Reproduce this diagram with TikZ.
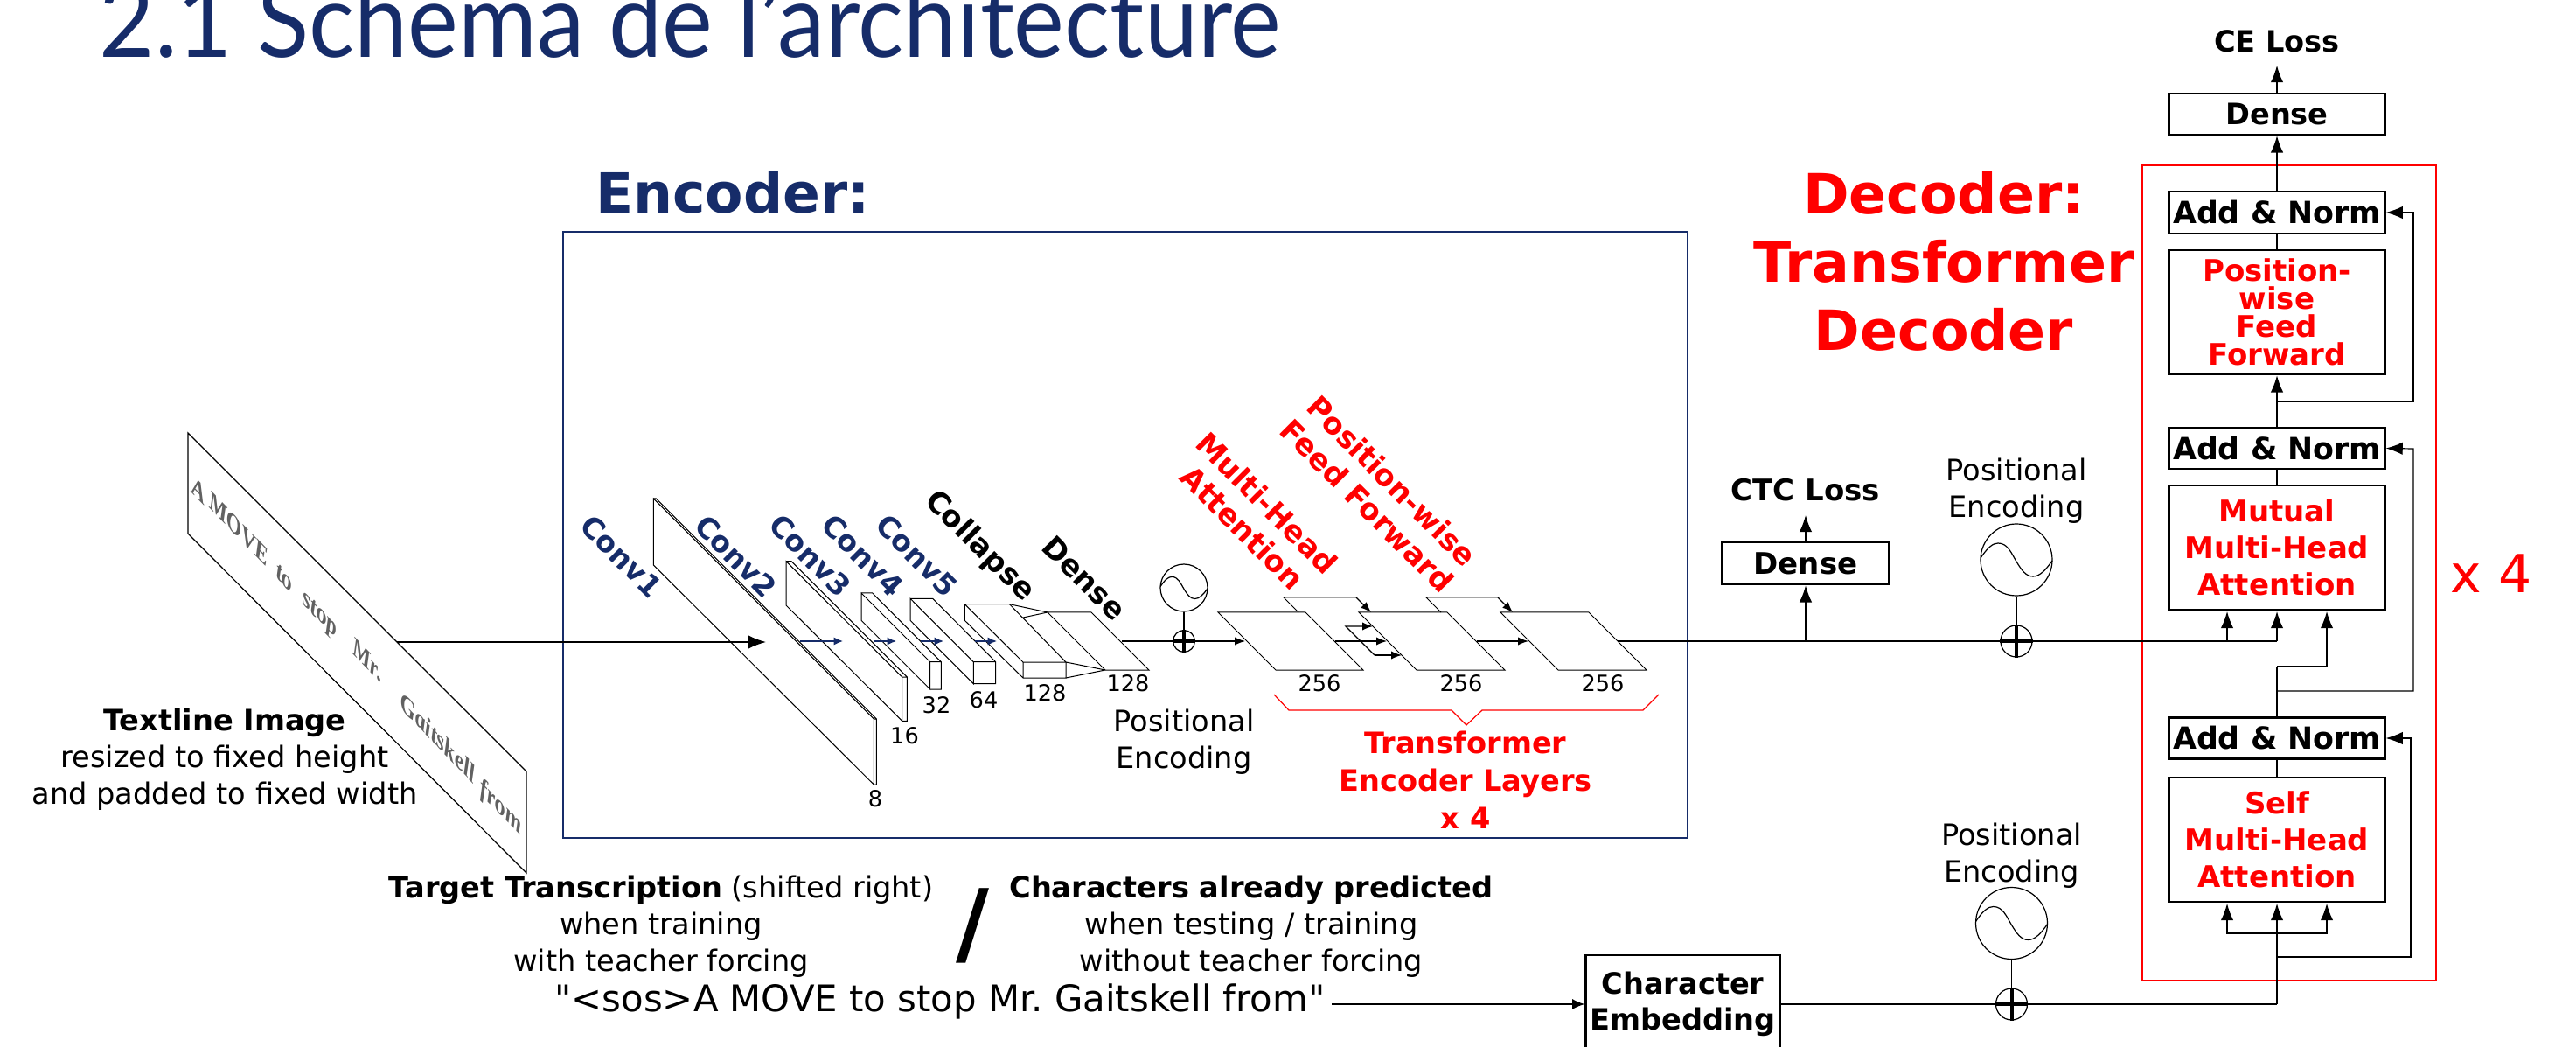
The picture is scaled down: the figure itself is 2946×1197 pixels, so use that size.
\documentclass[tikz,border=0pt]{standalone}
\usepackage{fontspec}
\usepackage{graphicx}
\setmainfont{DejaVu Sans}
\newfontfamily\seqfont{DejaVu Sans}
\newfontfamily\handfont{Liberation Serif}
\newfontfamily\titlefont{Lato}
\usetikzlibrary{arrows.meta,calc}
\definecolor{navy}{RGB}{22,44,105}
\definecolor{redd}{RGB}{255,0,0}
\newcommand\sinewave[3]{\draw[thinl,shift={(#1,#2)},scale=#3] (-41,-2) .. controls (-33,-14) and (-27,-19) .. (-21,-19) .. controls (-10,-19) and (-6,-8) .. (0,2) .. controls (6,12) and (11,19) .. (19,19) .. controls (27,19) and (34,11) .. (41,1);}
\tikzset{
  x=0.25pt,y=-0.25pt,
  thinl/.style={draw=black,line width=0.3pt},
  plate/.style={draw=black,line width=0.25pt},
  conn/.style={thinl,-{Latex[length=4.8pt,width=3.6pt]}},
  small/.style={thinl,-{Latex[length=3pt,width=2.3pt]}},
  bluearr/.style={draw=navy,line width=0.35pt,-{Latex[length=2.6pt,width=2.3pt]}},
  boxn/.style={draw=black,line width=0.68pt,fill=white,inner sep=0pt,minimum width=61.6pt,align=center,font=\fontsize{8.4}{8}\selectfont\bfseries},
  anbox/.style={boxn,font=\fontsize{8.7}{8}\selectfont\bfseries},
  redbox/.style={boxn,text=redd,font=\fontsize{8.5}{10.5}\selectfont\bfseries},
  txt/.style={inner sep=0pt,align=center,font=\fontsize{8.4}{10.5}\selectfont},
  btxt/.style={txt,font=\fontsize{8.4}{10.5}\selectfont\bfseries},
  dim/.style={inner sep=0pt,font=\fontsize{6.4}{7}\selectfont},
  conv/.style={inner sep=0pt,text=navy,rotate=-45,font=\fontsize{8.3}{9}\selectfont\bfseries},
  rotblack/.style={inner sep=0pt,rotate=-45,font=\fontsize{8.5}{9}\selectfont\bfseries},
  rotred/.style={inner sep=0pt,rotate=-45,align=center,text=redd,font=\fontsize{8.55}{10}\selectfont\bfseries},
  pluscirc/.style={draw=black,line width=0.3pt,circle,minimum size=9pt,inner sep=0pt},
  wavecirc/.style={draw=black,line width=0.3pt,circle,inner sep=0pt},
  hand/.style={inner sep=0pt,text=black!62,transform shape,font=\fontsize{7.2}{8}\selectfont\handfont\bfseries\itshape},
}
\begin{document}
\begin{tikzpicture}
\useasboundingbox (0,0) rectangle (2946,1197);
\clip (0,0) rectangle (2946,1197);

% title
\node[anchor=base west,inner sep=0pt,text=navy,font=\fontsize{29.5}{30}\selectfont\titlefont] (title) at (113,66) {\scalebox{0.926}[1]{2.1 Schéma de l’architecture}};

% input image
\draw[thinl] (215,495) -- (215,610) -- (602,998) -- (602,882) -- cycle;
\foreach \nm/\px/\py/\w in {ha/227/561/A,hb/273/605/MOVE,hc/325/661/to,hd/366/705/stop,he/420/754/Mr.,hf/501/843/Gaitskell,hg/573/924/from}{
  \begin{scope}[shift={(\px,\py)},cm={0.8,-0.83,0,1.15,(0,0)}]
    \node[hand] (\nm) at (0,0) {\w};
  \end{scope}
}
\node[txt] (imglabel) at (257,868) {\textbf{Textline Image}\\resized to fixed height\\and padded to fixed width};

% encoder frame
\node[draw=navy,line width=0.55pt,minimum width=321.5pt,minimum height=173.25pt,inner sep=0pt] (encbox) at (1287,611.5) {};
\node[inner sep=0pt,text=navy,font=\fontsize{15.8}{18}\selectfont\bfseries] (enctitle) at (838,220) {Encoder:};

% conv blocks
\draw[plate] (747.3,646) -- (747.3,570) -- (999.3,822) -- (999.3,897) -- cycle;
\draw[plate] (747.3,570) -- (750.3,570) -- (1002.3,822) -- (1002.3,897) -- (999.3,897) (999.3,822) -- (1002.3,822);
\draw[plate] (899,692) -- (899,641.7) -- (1031.7,774) -- (1031.7,824.3) -- cycle;
\draw[plate] (899,641.7) -- (905,641.7) -- (1037.3,774) -- (1037.3,824.3) -- (1031.7,824.3) (1031.7,774) -- (1037.3,774);
\draw[plate] (985,709.3) -- (985,678) -- (1063.7,756.7) -- (1063.7,788) -- cycle;
\draw[plate] (985,678) -- (997.7,678) -- (1076.3,756.7) -- (1076.3,788) -- (1063.7,788) (1063.7,756.7) -- (1076.3,756.7);
\draw[plate] (1041,709.3) -- (1041,684.3) -- (1113.3,756.7) -- (1113.3,781.7) -- cycle;
\draw[plate] (1041,684.3) -- (1066.7,684.3) -- (1138.7,756.7) -- (1138.7,781.7) -- (1113.3,781.7) (1113.3,756.7) -- (1138.7,756.7);
% collapse
\draw[plate] (1103.3,690.7) -- (1154.5,690.7) -- (1219,757) -- (1170,757) -- cycle;
\draw[plate] (1103.3,690.7) -- (1103.3,709.3) -- (1170,775) -- (1219,775) -- (1219,757) (1170,757) -- (1170,775);
\draw[plate] (1154.5,690.7) -- (1198,700) (1170,706) -- (1198,700) (1219,757) -- (1264,766) (1219,775) -- (1264,766);
% dense plate
\draw[plate] (1198,700) -- (1248,700) -- (1314,766) -- (1264,766) -- cycle;

% transformer plates
\draw[plate] (1393,700) -- (1493,700) -- (1559,766) -- (1459,766) -- cycle;
\draw[plate] (1554,700) -- (1655,700) -- (1721,766) -- (1620,766) -- cycle;
\draw[plate] (1716,700) -- (1817,700) -- (1883,766) -- (1782,766) -- cycle;
\draw[plate] (1485,700) -- (1468,683) -- (1551,683);
\draw[plate] (1648,700) -- (1631,683) -- (1713,683);

\coordinate (a1) at (1551,683); \coordinate (a1t) at (1568,700);
\coordinate (a2) at (1713,683); \coordinate (a2t) at (1730,700);
\draw[small] (a1) -- (a1t);
\draw[small] (a2) -- (a2t);
\coordinate (s0) at (1539,716); \coordinate (s1) at (1570,716); \coordinate (s2) at (1572,749); \coordinate (s3) at (1603,749);
\draw[small] (s2) -- (s0) -- (s1);
\draw[small] (s2) -- (s3);
\coordinate (m1) at (1527,733); \coordinate (m1t) at (1586,733);
\coordinate (m2) at (1689,733); \coordinate (m2t) at (1748,733);
\draw[small] (m1) -- (m1t);
\draw[small] (m2) -- (m2t);

% labels
\node[conv] (lc1) at (710.7,636) {Conv1};
\node[conv] (lc2) at (841.7,636) {Conv2};
\node[conv] (lc3) at (927,635) {Conv3};
\node[conv] (lc4) at (986.7,635) {Conv4};
\node[conv] (lc5) at (1049,635) {Conv5};
\node[rotblack] (lcol) at (1120,625) {Collapse};
\node[rotblack] (lden) at (1240,661) {Dense};
\node[rotred] (lmha) at (1435,589) {Multi-Head\\Attention};
\node[rotred] (lpff) at (1578,564) {Position-wise\\Feed Forward};

\node[dim] (d8) at (1001,913) {8};
\node[dim] (d16) at (1034.5,841) {16};
\node[dim] (d32) at (1071,806) {32};
\node[dim] (d64) at (1125,800) {64};
\node[dim] (d128a) at (1195,792) {128};
\node[dim] (d128b) at (1290,781) {128};
\node[dim] (d256a) at (1509,781) {256};
\node[dim] (d256b) at (1671,781) {256};
\node[dim] (d256c) at (1833,781) {256};

% main arrows
\coordinate (imgout) at (454,734); \coordinate (imgtip) at (876,734);
\draw[thinl,-{Latex[length=5pt,width=3.8pt]}] (imgout) -- (imgtip);
\coordinate (b1) at (915,733); \coordinate (b1t) at (964,733);
\coordinate (b2) at (1000,733); \coordinate (b2t) at (1025,733);
\coordinate (b3) at (1053,733); \coordinate (b3t) at (1079,733);
\coordinate (b4) at (1115,733); \coordinate (b4t) at (1140,733);
\draw[bluearr] (b1) -- (b1t);
\draw[bluearr] (b2) -- (b2t);
\draw[bluearr] (b3) -- (b3t);
\draw[bluearr] (b4) -- (b4t);

% encoder positional encoding
\node[wavecirc,minimum size=13.5pt] (pw1) at (1354,672) {};
\sinewave{1354}{672}{0.66}
\node[pluscirc,minimum size=6.2pt] (pp1) at (1354,733) {};
\draw[black,line width=0.9pt] (pp1.north) -- (pp1.south) (pp1.west) -- (pp1.east);
\draw[thinl] (pw1.south) -- (pp1.north);
\coordinate (d1) at (1283,733); \coordinate (d1t) at (1424,733);
\draw[small] (d1) -- (d1t);
\node[txt] (pl1) at (1354,848) {Positional\\Encoding};

% brace
\draw[draw=redd,line width=0.3pt] (1457,794) -- (1474,812) -- (1660,812) -- (1677,829) -- (1695,812) -- (1879,812) -- (1897,794);
\node[btxt,text=redd,font=\fontsize{8.4}{10.75}\selectfont\bfseries] (trlabel) at (1676,892) {Transformer\\Encoder Layers\\x 4};

% CTC
\node[boxn,minimum width=47.9pt,minimum height=12pt,font=\fontsize{8.5}{8}\selectfont\bfseries] (ctcdense) at (2065,644) {Dense};
\node[btxt,font=\fontsize{8.5}{10}\selectfont\bfseries] (ctcloss) at (2065,560) {CTC Loss};
\coordinate (ctcbr) at (2065,733); \coordinate (ctctip) at (2065,589);
\draw[conn] (ctcbr) -- (ctcdense.south);
\draw[conn] (ctcdense.north) -- (ctctip);

% decoder main
\node[draw=redd,line width=0.55pt,minimum width=84.1pt,minimum height=233pt,inner sep=0pt] (decbox) at (2617.75,655) {};
\node[inner sep=0pt,align=center,text=redd,font=\fontsize{15.85}{19.5}\selectfont\bfseries] (dectitle) at (2223,299) {Decoder:\\Transformer\\Decoder};
\node[inner sep=0pt,text=redd,font=\fontsize{15}{18}\selectfont] (x4) at (2849,656) {x 4};

\node[btxt] (celoss) at (2604,47) {CE Loss};
\node[boxn,minimum height=11.75pt] (dense) at (2604,130.5) {Dense};
\node[anbox,minimum height=12pt] (an1) at (2604,243) {Add \& Norm};
\node[redbox,minimum height=35.5pt,font=\fontsize{8.5}{8}\selectfont\bfseries] (pwff) at (2604,357) {Position-\\wise\\Feed\\Forward};
\node[anbox,minimum height=11.75pt] (an2) at (2604,512.5) {Add \& Norm};
\node[redbox,minimum height=35.5pt] (mutual) at (2604,626) {Mutual\\Multi-Head\\Attention};
\node[anbox,minimum height=11.9pt] (an3) at (2604,844) {Add \& Norm};
\node[redbox,minimum height=35.5pt] (self) at (2604,960) {Self\\Multi-Head\\Attention};

\coordinate (cetip) at (2604,75);
\draw[conn] (dense.north) -- (cetip);
\draw[conn] (an1.north) -- (dense.south);
\draw[thinl] (an1.south) -- (pwff.north);
\draw[conn] (an2.north) -- (pwff.south);
\draw[thinl] (an2.south) -- (mutual.north);
\draw[thinl] (an3.south) -- (self.north);

\coordinate (sk1) at (2604,459); \coordinate (sk1r) at (2760,459); \coordinate (sk1u) at (2760,243);
\draw[conn] (sk1) -- (sk1r) -- (sk1u) -- (an1.east);
\coordinate (sk2) at (2604,790); \coordinate (sk2r) at (2760,790); \coordinate (sk2u) at (2760,513);
\draw[conn] (sk2) -- (sk2r) -- (sk2u) -- (an2.east);
\coordinate (sk3) at (2604,1094); \coordinate (sk3r) at (2757,1094); \coordinate (sk3u) at (2757,844);
\draw[conn] (sk3) -- (sk3r) -- (sk3u) -- (an3.east);

% mutual attention inputs
\coordinate (mk) at (2547,699); \coordinate (mv) at (2604,699); \coordinate (mq) at (2661,699);
\draw[thinl] (1850,733) -- (2604,733);
\draw[black,line width=0.55pt] (2092,733) -- (2285,733);
\coordinate (lk) at (2547,733); \coordinate (lv) at (2604,733);
\draw[conn] (lk) -- (mk);
\draw[conn] (lv) -- (mv);
\coordinate (q1) at (2661,762); \coordinate (q0) at (2604,762);
\draw[thinl] (an3.north) -- (q0);
\draw[conn] (q0) -- (q1) -- (mq);

% self attention inputs
\coordinate (sa) at (2547,1033); \coordinate (sb) at (2604,1033); \coordinate (sc) at (2661,1033);
\coordinate (sl) at (2547,1067); \coordinate (sm) at (2604,1067); \coordinate (sr) at (2661,1067);
\coordinate (bot) at (2604,1148);
\draw[conn] (sm) -- (sl) -- (sa);
\draw[conn] (sm) -- (sr) -- (sc);

% positional encodings, decoder
\node[wavecirc,minimum size=20.5pt] (pw2) at (2306,640) {};
\sinewave{2306}{640}{1}
\node[pluscirc] (pp2) at (2306,733) {};
\draw[black,line width=1pt] (pp2.north) -- (pp2.south) (pp2.west) -- (pp2.east);
\draw[thinl] (pw2.south) -- (pp2.north);
\node[txt] (pl2) at (2306,561) {Positional\\Encoding};

\node[wavecirc,minimum size=20.5pt] (pw3) at (2300.5,1055.5) {};
\sinewave{2300.5}{1055.5}{1}
\node[pluscirc] (pp3) at (2300.5,1148) {};
\draw[black,line width=1pt] (pp3.north) -- (pp3.south) (pp3.west) -- (pp3.east);
\draw[thinl] (pw3.south) -- (pp3.north);
\node[txt] (pl3) at (2300.5,978) {Positional\\Encoding};

% bottom
\node[draw=black,line width=0.6pt,minimum width=55.6pt,minimum height=28pt,inner sep=0pt,align=center,font=\fontsize{8.4}{10.3}\selectfont\bfseries] (charemb) at (1924.5,1148) {Character\\Embedding};
\node[inner sep=0pt,font=\fontsize{10.45}{12}\selectfont\seqfont\frenchspacing] (seq) at (1075,1145) {"<sos>A MOVE to stop Mr. Gaitskell from"};
\coordinate (seqend) at (1523,1148);
\draw[thinl,-{Latex[length=3.5pt,width=3pt]}] (seqend) -- (charemb.west);
\draw[thinl] (charemb.east) -- (bot);
\draw[conn] (bot) -- (sb);

\node[txt] (tgt) at (756,1059) {\textbf{Target Transcription} (shifted right)\\when training\\with teacher forcing};
\node[txt] (chars) at (1431,1059) {\textbf{Characters already predicted}\\when testing / training\\without teacher forcing};
\node[inner sep=0pt,font=\fontsize{26}{28}\selectfont\bfseries] (slash) at (1112,1058) {/};
\end{tikzpicture}
\end{document}
